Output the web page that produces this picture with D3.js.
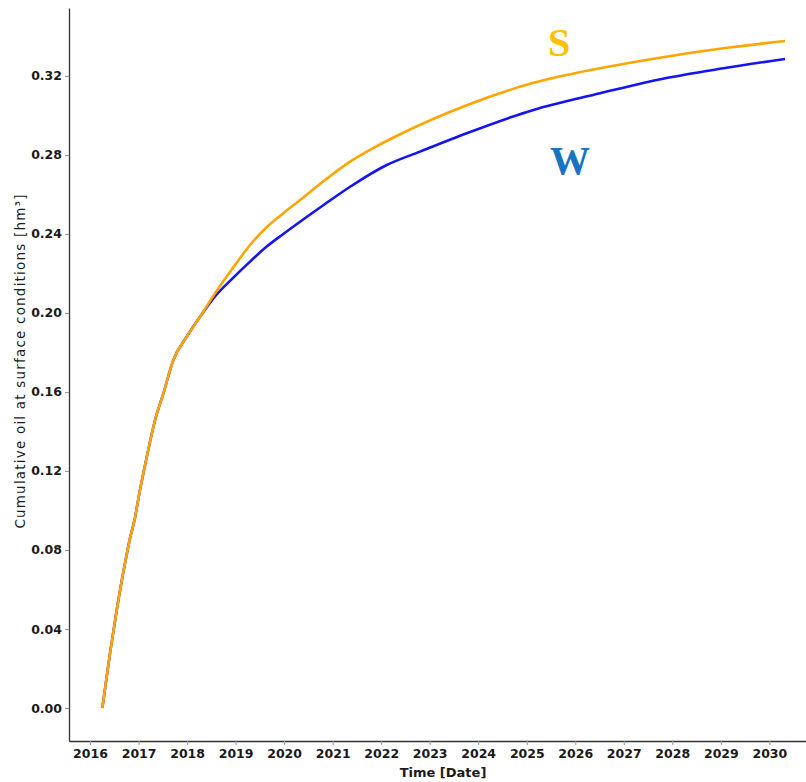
<!DOCTYPE html>
<html><head><meta charset="utf-8">
<script src="https://cdn.jsdelivr.net/npm/d3@7"></script>
<style>
html,body{margin:0;padding:0;background:#fff;}
svg{display:block;}
.tick text{font-family:"DejaVu Sans",sans-serif;font-weight:bold;font-size:12.5px;fill:#1a1a1a;}
</style></head>
<body>
<svg id="c" width="806" height="782"></svg>
<script>
// Shared early portion (years as fractional years, values in hm³)
const sharedYears = [2016.254, 2016.412, 2016.550, 2016.721, 2016.824, 2016.927, 2016.995, 2017.169, 2017.340, 2017.511, 2017.717, 2017.993, 2018.267];
const sharedValues = [0.0000, 0.0278, 0.0496, 0.0734, 0.0860, 0.0965, 0.1060, 0.1272, 0.1458, 0.1593, 0.1762, 0.1880, 0.1981];

const sYears = [2018.508, 2018.954, 2019.298, 2019.641, 2019.985, 2020.328, 2020.843, 2021.359, 2021.874, 2022.389, 2023.764, 2025.137, 2026.511, 2027.680, 2029.052, 2030.324];
const sValues = [0.2074, 0.2231, 0.2344, 0.2434, 0.2505, 0.2572, 0.2673, 0.2766, 0.2840, 0.2905, 0.3052, 0.3165, 0.3239, 0.3290, 0.3340, 0.3377];

const wYears = [2018.541, 2018.953, 2019.298, 2019.642, 2019.984, 2020.328, 2020.843, 2021.359, 2022.115, 2022.801, 2023.764, 2025.137, 2026.511, 2027.680, 2029.052, 2030.324];
const wValues = [0.2074, 0.2179, 0.2260, 0.2336, 0.2400, 0.2462, 0.2552, 0.2639, 0.2749, 0.2817, 0.2910, 0.3028, 0.3112, 0.3180, 0.3239, 0.3286];

const yTicks = [0.00, 0.04, 0.08, 0.12, 0.16, 0.20, 0.24, 0.28, 0.32];
const seriesLabels = ["S", "W"];
const seriesColors = ["#FFA500", "#1414F0"];
const labelColors = ["#FFC000", "#1874C0"];

function toDate(fy){
  const yr = Math.floor(fy);
  const start = new Date(yr,0,1), end = new Date(yr+1,0,1);
  return new Date(start.getTime() + (fy-yr)*(end-start));
}

const svg = d3.select("#c");
const mLeft = 69, mRight = 806, mTop = 8, mBottom = 741;

const x = d3.scaleTime()
  .domain([toDate(2015.567), toDate(2030.756)])
  .range([mLeft, mRight]);
const y = d3.scaleLinear()
  .domain([-0.0167, 0.3544])
  .range([mBottom, mTop]);

const sData = sharedYears.map((d,i)=>({t:toDate(d), v:sharedValues[i]}))
  .concat(sYears.map((d,i)=>({t:toDate(d), v:sValues[i]})));
const wData = sharedYears.map((d,i)=>({t:toDate(d), v:sharedValues[i]}))
  .concat(wYears.map((d,i)=>({t:toDate(d), v:wValues[i]})));

const line = d3.line().x(d=>x(d.t)).y(d=>y(d.v)).curve(d3.curveMonotoneX);

// axes
const xAxis = d3.axisBottom(x).ticks(d3.timeYear.every(1)).tickFormat(d3.timeFormat("%Y")).tickSizeInner(4).tickSizeOuter(0).tickPadding(4);
const yAxis = d3.axisLeft(y).tickValues(yTicks).tickFormat(d3.format(".2f")).tickSizeInner(4).tickSizeOuter(0).tickPadding(3);

const gx = svg.append("g").attr("transform",`translate(0,${mBottom})`).call(xAxis);
const gy = svg.append("g").attr("transform",`translate(${mLeft},0)`).call(yAxis);
[gx,gy].forEach(g=>{
  g.select(".domain").attr("stroke","#333").attr("stroke-width",1.3);
  g.selectAll(".tick line").attr("stroke","#999");
});

// lines (W first so S draws on top)
svg.append("path").datum(wData).attr("d",line).attr("fill","none")
  .attr("stroke",seriesColors[1]).attr("stroke-width",2.6);
svg.append("path").datum(sData).attr("d",line).attr("fill","none")
  .attr("stroke",seriesColors[0]).attr("stroke-width",2.6);

// series labels
svg.append("text").attr("x",x(toDate(2025.666))).attr("y",y(0.3301)).attr("text-anchor","middle")
  .attr("font-family","'Liberation Serif',serif").attr("font-weight","bold").attr("font-size",40)
  .attr("fill",labelColors[0]).text(seriesLabels[0]);
svg.append("text").attr("x",x(toDate(2025.89))).attr("y",y(0.2705)).attr("text-anchor","middle")
  .attr("font-family","'Liberation Serif',serif").attr("font-weight","bold").attr("font-size",40)
  .attr("fill",labelColors[1]).text(seriesLabels[1]);

// axis titles
svg.append("text").attr("x",443).attr("y",777).attr("text-anchor","middle")
  .attr("font-family","'DejaVu Sans',sans-serif").attr("font-weight","bold").attr("font-size",13)
  .attr("fill","#1a1a1a").text("Time [Date]");
svg.append("text").attr("transform","translate(25,361) rotate(-90)").attr("text-anchor","middle")
  .attr("font-family","'DejaVu Sans',sans-serif").attr("font-size",13.5).attr("letter-spacing",1.2)
  .attr("fill","#1a1a1a").text("Cumulative oil at surface conditions [hm³]");
</script>
</body></html>
